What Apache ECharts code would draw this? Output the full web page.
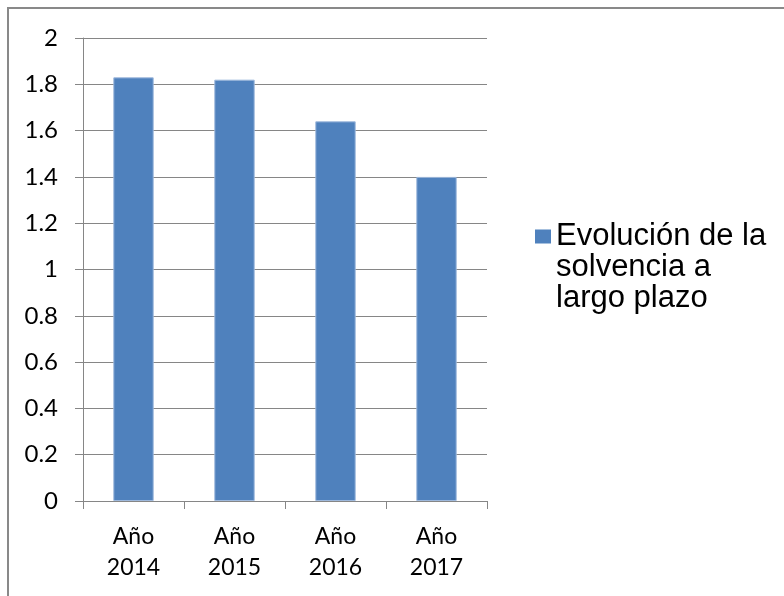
<!DOCTYPE html>
<html>
<head>
<meta charset="utf-8">
<script src="https://cdn.jsdelivr.net/npm/echarts@6/dist/echarts.min.js"></script>
<style>
  html, body { margin: 0; padding: 0; background: #ffffff; }
  #chart { width: 784px; height: 596px; }
</style>
</head>
<body>
<div id="chart"></div>
<script>
// Long-term solvency ratio by year
const categories = ['Año 2014', 'Año 2015', 'Año 2016', 'Año 2017'];
const solvencyValues = [1.83, 1.82, 1.64, 1.40];
const seriesName = 'Evolución de la solvencia a largo plazo';
const yTicks = { min: 0, max: 2, interval: 0.2 };

const axisGray = '#868686';
const barBlue = '#4F81BD';

// Legend swatch: a square at the top of a tall, mostly empty icon box,
// so it lines up with the first line of the wrapped legend text.
const legendIcon = 'path://M0,0L16,0L16,14L0,14Z M0,76L0.01,76L0,75.99Z';

// Greedy word wrap for the legend entry (max characters per line).
function wrapWords(text, maxChars) {
  const lines = [];
  let line = '';
  text.split(' ').forEach((w) => {
    const next = line ? line + ' ' + w : w;
    if (next.length > maxChars && line) {
      lines.push(line);
      line = w;
    } else {
      line = next;
    }
  });
  if (line) lines.push(line);
  return lines.join('\n');
}

const chart = echarts.init(document.getElementById('chart'), null, { renderer: 'canvas' });

chart.setOption({
  backgroundColor: '#ffffff',
  animation: false,
  grid: { left: 83, right: 297, top: 38, bottom: 95, containLabel: false },
  graphic: [{
    type: 'polyline',
    shape: { points: [[8, 596], [8, 8], [784, 8]] },
    style: { stroke: '#898989', lineWidth: 2, fill: null },
    silent: true
  }],
  legend: {
    left: 530,
    top: 216,
    orient: 'vertical',
    itemWidth: 16,
    itemHeight: 76,
    icon: legendIcon,
    itemStyle: { borderWidth: 0 },
    formatter: (name) => wrapWords(name, 15),
    textStyle: {
      fontFamily: '"Liberation Sans", Arial, sans-serif',
      fontSize: 31,
      lineHeight: 31,
      color: '#000000'
    },
    data: [seriesName]
  },
  xAxis: {
    type: 'category',
    data: categories,
    axisLine: { show: true, lineStyle: { color: axisGray, width: 1 } },
    axisTick: { show: true, alignWithLabel: false, length: 8, lineStyle: { color: axisGray } },
    axisLabel: {
      margin: 20,
      fontFamily: 'Lato, sans-serif',
      fontSize: 23,
      lineHeight: 31,
      color: '#000000',
      formatter: (v) => v.replace(' ', '\n')
    },
    splitLine: { show: false }
  },
  yAxis: {
    type: 'value',
    min: yTicks.min,
    max: yTicks.max,
    interval: yTicks.interval,
    axisLine: { show: true, lineStyle: { color: axisGray, width: 1 } },
    axisTick: { show: true, length: 8, lineStyle: { color: axisGray } },
    axisLabel: {
      margin: 25,
      fontFamily: 'Lato, sans-serif',
      fontSize: 24,
      color: '#000000'
    },
    splitLine: { show: true, lineStyle: { color: axisGray, width: 1 } }
  },
  series: [{
    name: seriesName,
    type: 'bar',
    data: solvencyValues,
    barWidth: '40%',
    itemStyle: { color: barBlue, borderColor: '#9DB8DC', borderWidth: 1 }
  }]
});
</script>
</body>
</html>
